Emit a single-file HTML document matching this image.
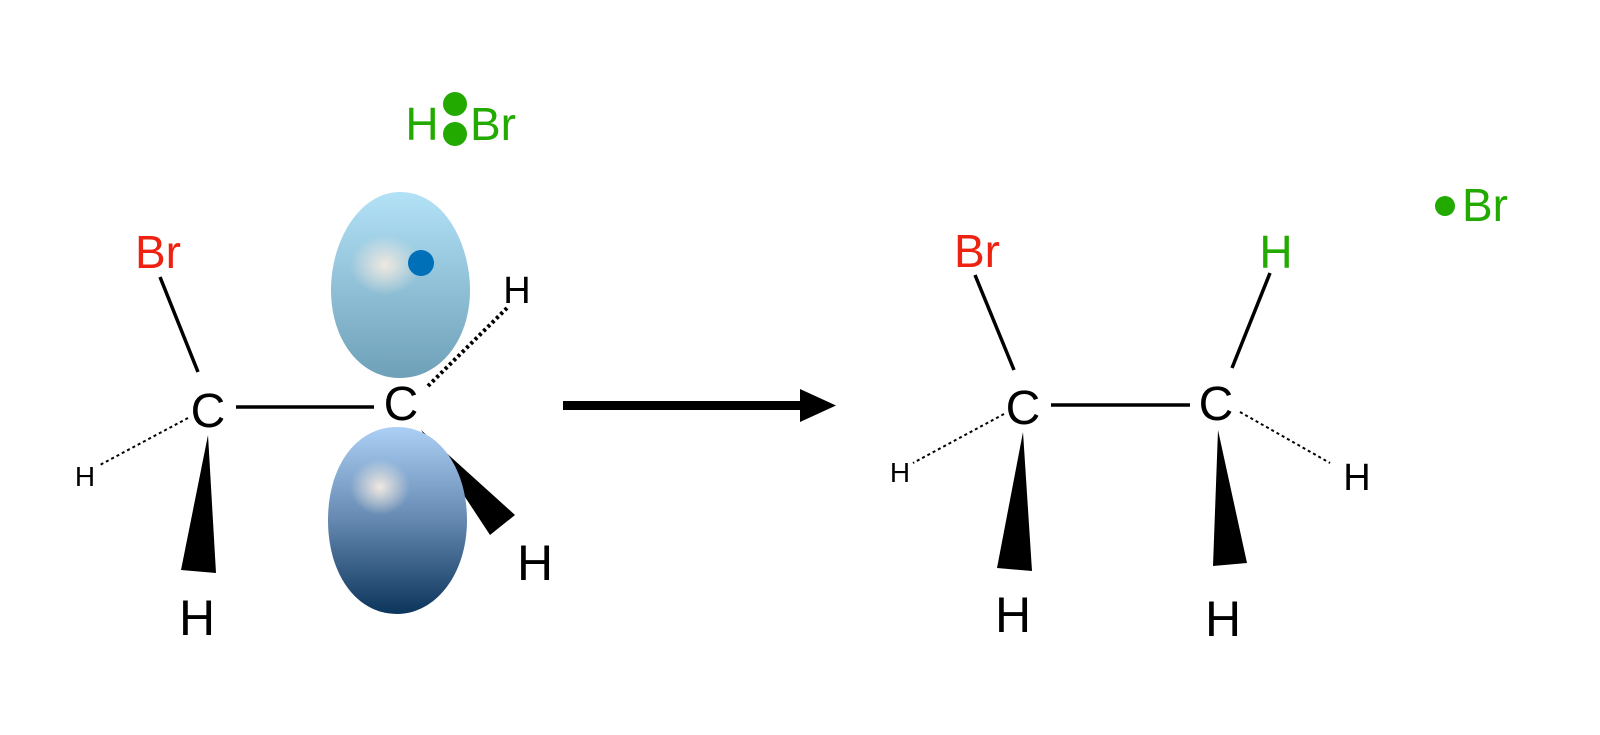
<!DOCTYPE html>
<html><head><meta charset="utf-8"><style>
html,body{margin:0;padding:0;background:#fff;width:1600px;height:735px;overflow:hidden}
text{font-family:"Liberation Sans",sans-serif}
</style></head><body>
<svg width="1600" height="735" viewBox="0 0 1600 735" xmlns="http://www.w3.org/2000/svg">
<defs>
<radialGradient id="g1" cx="0.38" cy="0.38" r="0.7">
<stop offset="0" stop-color="#eeeae6"/><stop offset="0.2" stop-color="#b0def2"/><stop offset="1" stop-color="#6fa4bd"/></radialGradient>
<linearGradient id="g1b" x1="0" y1="0" x2="0" y2="1"><stop offset="0" stop-color="#b3e2f7"/><stop offset="1" stop-color="#6ea0b8"/></linearGradient>
<linearGradient id="g2" x1="0" y1="0" x2="0" y2="1"><stop offset="0" stop-color="#acd0f5"/><stop offset="0.5" stop-color="#6488b0"/><stop offset="1" stop-color="#0c355c"/></linearGradient>
<radialGradient id="hl" cx="0.5" cy="0.5" r="0.5"><stop offset="0" stop-color="#f0e8e0" stop-opacity="1"/><stop offset="1" stop-color="#f0e8e0" stop-opacity="0"/></radialGradient>
</defs>
<g fill="#000" stroke="none">
<!-- left molecule -->
<text x="158" y="268" font-size="46" fill="#ee2211" text-anchor="middle">Br</text>
<line x1="160" y1="277" x2="198" y2="372" stroke="#000" stroke-width="3.5"/>
<text x="208" y="427" font-size="48" text-anchor="middle">C</text>
<line x1="236" y1="407" x2="374" y2="407" stroke="#000" stroke-width="3.5"/>
<line x1="188" y1="418" x2="98" y2="466" stroke="#000" stroke-width="2" stroke-dasharray="3,3"/>
<text x="85" y="486" font-size="28" text-anchor="middle">H</text>
<polygon points="208,435 181,570 216,573"/>
<text x="197" y="635" font-size="50" text-anchor="middle">H</text>
<!-- lobes -->
<path d="M400,192 C445,192 470,245 470,290 C470,340 440,378 400,378 C360,378 331,340 331,290 C331,240 360,192 400,192 Z" fill="url(#g1b)"/>
<ellipse cx="385" cy="265" rx="35" ry="30" fill="url(#hl)"/>
<circle cx="421" cy="263" r="13" fill="#0070b8"/>
<polygon points="421,430 515,515 490,535"/>
<path d="M397,427 C440,427 467,470 467,520 C467,575 435,614 397,614 C357,614 328,575 328,520 C328,468 355,427 397,427 Z" fill="url(#g2)"/>
<ellipse cx="380" cy="487" rx="30" ry="28" fill="url(#hl)"/>
<text x="401" y="420" font-size="48" text-anchor="middle">C</text>
<line x1="428" y1="386" x2="507" y2="308" stroke="#000" stroke-width="4" stroke-dasharray="3,3"/>
<text x="517" y="303" font-size="38" text-anchor="middle">H</text>
<text x="535" y="580" font-size="50" text-anchor="middle">H</text>
<!-- HBr -->
<text x="422" y="140" font-size="46" fill="#22aa00" text-anchor="middle">H</text>
<circle cx="455" cy="104" r="12" fill="#22aa00"/>
<circle cx="455" cy="134" r="12" fill="#22aa00"/>
<text x="493" y="140" font-size="46" fill="#22aa00" text-anchor="middle">Br</text>
<!-- arrow -->
<rect x="563" y="401" width="242" height="9"/>
<polygon points="800,389 836,405.5 800,422"/>
<!-- right molecule -->
<text x="977" y="267" font-size="46" fill="#ee2211" text-anchor="middle">Br</text>
<line x1="975" y1="275" x2="1014" y2="370" stroke="#000" stroke-width="3.5"/>
<text x="1023" y="424" font-size="48" text-anchor="middle">C</text>
<line x1="1051" y1="405" x2="1190" y2="405" stroke="#000" stroke-width="3.5"/>
<text x="1216" y="420" font-size="48" text-anchor="middle">C</text>
<text x="1276" y="268" font-size="46" fill="#22aa00" text-anchor="middle">H</text>
<line x1="1270" y1="273" x2="1232" y2="368" stroke="#000" stroke-width="3.5"/>
<line x1="1004" y1="414" x2="913" y2="463" stroke="#000" stroke-width="2" stroke-dasharray="3,3"/>
<text x="900" y="482" font-size="28" text-anchor="middle">H</text>
<line x1="1240" y1="412" x2="1330" y2="463" stroke="#000" stroke-width="2" stroke-dasharray="3,3"/>
<text x="1357" y="490" font-size="38" text-anchor="middle">H</text>
<polygon points="1023,432 997,568 1032,571"/>
<text x="1013" y="632" font-size="50" text-anchor="middle">H</text>
<polygon points="1218,430 1213,566 1247,563"/>
<text x="1223" y="636" font-size="50" text-anchor="middle">H</text>
<circle cx="1445" cy="206" r="10" fill="#22aa00"/>
<text x="1485" y="221" font-size="46" fill="#22aa00" text-anchor="middle">Br</text>
</g>
</svg>
</body></html>
